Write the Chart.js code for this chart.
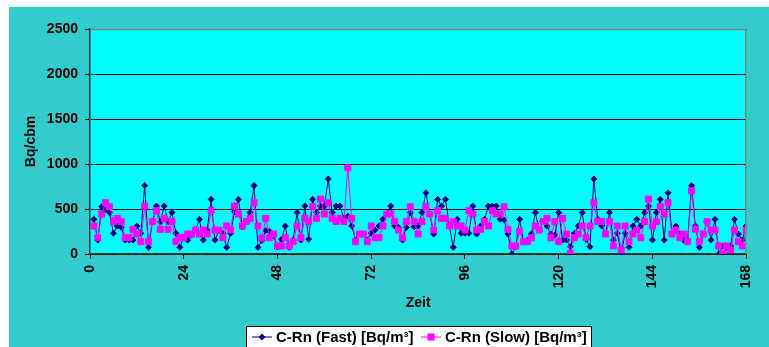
<!DOCTYPE html>
<html>
<head>
<meta charset="utf-8">
<title>C-Rn</title>
<script src="https://cdn.jsdelivr.net/npm/chart.js"></script>
<style>
  html, body { margin: 0; padding: 0; background: #ffffff; }
  #wrap { width: 769px; height: 347px; }
</style>
</head>
<body>
<div id="wrap"><canvas id="radonChart" width="769" height="347"></canvas></div>
<script>
// --- data (hours 1..168) ---
const hours = Array.from({ length: 168 }, (_, i) => i + 1);

const fastValues = [
  385, 155, 525, 490, 460, 230, 310, 296, 155, 155, 155, 310, 230, 760, 74, 360, 533, 360, 533, 360,
  460, 230, 74, 185, 155, 210, 266, 385, 155, 266, 607, 155, 266, 230, 74, 230, 470, 607, 300, 360,
  460, 760, 74, 150, 260, 250, 200, 80, 163, 311, 74, 155, 460, 155, 533, 163, 607, 460, 533, 533,
  833, 460, 533, 533, 396, 420, 311, 155, 222, 222, 155, 230, 266, 311, 385, 444, 533, 311, 296, 155,
  296, 460, 303, 311, 460, 680, 444, 222, 607, 533, 607, 311, 74, 385, 230, 230, 230, 533, 222, 311,
  385, 533, 533, 533, 385, 377, 222, 0, 81, 385, 137, 155, 222, 460, 266, 360, 311, 222, 210, 460,
  155, 155, 81, 230, 311, 460, 163, 81, 833, 385, 311, 222, 460, 155, 230, 0, 230, 74, 311, 385,
  311, 460, 533, 155, 460, 607, 155, 680, 222, 311, 222, 155, 155, 760, 311, 74, 222, 360, 155, 385,
  0, 89, 74, 89, 385, 222, 155, 311
];

const slowValues = [
  311, 181, 444, 570, 525, 360, 396, 360, 181, 181, 274, 222, 137, 533, 137, 360, 481, 274, 396, 274,
  360, 137, 181, 181, 222, 222, 266, 222, 266, 222, 481, 266, 266, 181, 311, 266, 533, 444, 311, 360,
  396, 570, 311, 174, 396, 181, 222, 89, 89, 181, 89, 137, 311, 181, 396, 360, 525, 396, 610, 444,
  570, 396, 360, 396, 360, 958, 396, 137, 222, 222, 137, 311, 181, 181, 311, 444, 444, 360, 266, 181,
  360, 525, 360, 222, 360, 525, 444, 266, 481, 396, 396, 311, 360, 311, 311, 266, 481, 444, 266, 274,
  360, 311, 481, 444, 444, 525, 274, 89, 89, 250, 137, 137, 181, 311, 266, 360, 396, 181, 360, 137,
  396, 222, 7, 181, 222, 311, 181, 311, 570, 360, 360, 222, 360, 89, 311, 44, 311, 137, 222, 266,
  181, 360, 610, 311, 360, 525, 444, 570, 222, 266, 181, 222, 137, 703, 274, 137, 222, 360, 266, 266,
  89, 7, 89, 44, 266, 137, 89, 266
];

const seriesNames = ['C-Rn (Fast) [Bq/m³]', 'C-Rn (Slow) [Bq/m³]'];
const xTitle = 'Zeit';
const yTitle = 'Bq/cbm';

// --- colours ---
const FRAME_BG = '#33cccc';
const PLOT_BG = '#00ffff';
const FAST_COLOR = '#000080';
const SLOW_COLOR = '#ff00ff';
const FONT = "'Liberation Sans', Arial, sans-serif";

Chart.defaults.font.family = FONT;
Chart.defaults.font.size = 14;
Chart.defaults.font.weight = 'bold';
Chart.defaults.color = '#000000';

function toPoints(values) {
  return values.map((v, i) => ({ x: hours[i], y: v }));
}

// backgrounds, plot frame and the boxed legend
const excelLook = {
  id: 'excelLook',
  beforeDraw(chart) {
    const ctx = chart.ctx;
    const a = chart.chartArea;
    ctx.save();
    ctx.fillStyle = '#ffffff';
    ctx.fillRect(0, 0, chart.width, chart.height);
    ctx.fillStyle = FRAME_BG;
    ctx.fillRect(9, 7, chart.width - 9, chart.height - 7);
    ctx.fillStyle = PLOT_BG;
    ctx.fillRect(a.left, a.top, a.right - a.left, a.bottom - a.top);
    ctx.restore();
  },
  afterDraw(chart) {
    const ctx = chart.ctx;
    const a = chart.chartArea;
    ctx.save();
    // gray plot border top / right
    ctx.strokeStyle = '#808080';
    ctx.lineWidth = 1.5;
    ctx.beginPath();
    ctx.moveTo(a.left, a.top + 0.5);
    ctx.lineTo(a.right - 0.5, a.top + 0.5);
    ctx.lineTo(a.right - 0.5, a.bottom);
    ctx.stroke();

    // legend box
    const bx = 246.5, by = 326.5, bw = 345, bh = 30;
    ctx.fillStyle = '#ffffff';
    ctx.fillRect(bx, by, bw, bh);
    ctx.strokeStyle = '#000000';
    ctx.lineWidth = 1;
    ctx.strokeRect(bx, by, bw, bh);

    const ly = 337;
    const items = [
      { x: 252, color: FAST_COLOR, shape: 'diamond', text: seriesNames[0] },
      { x: 421, color: SLOW_COLOR, shape: 'square', text: seriesNames[1] }
    ];
    items.forEach(it => {
      ctx.strokeStyle = it.color;
      ctx.lineWidth = 1;
      ctx.beginPath();
      ctx.moveTo(it.x, ly);
      ctx.lineTo(it.x + 20, ly);
      ctx.stroke();
      ctx.fillStyle = it.color;
      const cx = it.x + 10;
      ctx.beginPath();
      if (it.shape === 'diamond') {
        ctx.moveTo(cx, ly - 3.5);
        ctx.lineTo(cx + 3.5, ly);
        ctx.lineTo(cx, ly + 3.5);
        ctx.lineTo(cx - 3.5, ly);
        ctx.closePath();
      } else {
        ctx.rect(cx - 3.5, ly - 3.5, 7, 7);
      }
      ctx.fill();
      ctx.fillStyle = '#000000';
      ctx.font = 'bold 15px ' + FONT;
      ctx.textAlign = 'left';
      ctx.textBaseline = 'middle';
      ctx.fillText(it.text, it.x + 24, ly + 1);
    });
    ctx.restore();
  }
};

const ctx = document.getElementById('radonChart');
const radonChart = new Chart(ctx, {
  type: 'line',
  data: {
    datasets: [
      {
        label: seriesNames[0],
        data: toPoints(fastValues),
        borderColor: FAST_COLOR,
        backgroundColor: FAST_COLOR,
        borderWidth: 1,
        pointStyle: 'rectRot',
        pointRadius: 3,
        pointBorderWidth: 1,
        pointHoverRadius: 3,
        order: 1
      },
      {
        label: seriesNames[1],
        data: toPoints(slowValues),
        borderColor: SLOW_COLOR,
        backgroundColor: SLOW_COLOR,
        borderWidth: 1,
        pointStyle: 'rect',
        pointRadius: 4.2,
        pointBorderWidth: 1,
        pointHoverRadius: 4.2,
        order: 0
      }
    ]
  },
  options: {
    responsive: false,
    animation: false,
    layout: { padding: { left: 0, right: 21, top: 29, bottom: 0 } },
    elements: { line: { tension: 0 } },
    plugins: {
      legend: { display: false },
      tooltip: { enabled: false }
    },
    scales: {
      x: {
        type: 'linear',
        min: 0,
        max: 168,
        afterFit(scale) { scale.height = 93; },
        ticks: {
          stepSize: 24,
          minRotation: 90,
          maxRotation: 90,
          padding: 6,
          callback: (value) => String(value)
        },
        grid: {
          drawOnChartArea: false,
          tickLength: 5,
          tickColor: '#000000'
        },
        border: { color: '#333333', width: 1.5 },
        title: {
          display: true,
          text: xTitle,
          padding: { top: 0, bottom: 35 }
        }
      },
      y: {
        min: 0,
        max: 2500,
        afterFit(scale) { scale.width = 90; },
        ticks: {
          stepSize: 500,
          padding: 7,
          callback: (value) => String(value)
        },
        grid: {
          color: '#000000',
          lineWidth: 1,
          tickLength: 5,
          tickColor: '#000000'
        },
        border: { color: '#333333', width: 1.5 },
        title: {
          display: true,
          text: yTitle,
          padding: { top: 23, bottom: 0 }
        }
      }
    }
  },
  plugins: [excelLook]
});
</script>
</body>
</html>
